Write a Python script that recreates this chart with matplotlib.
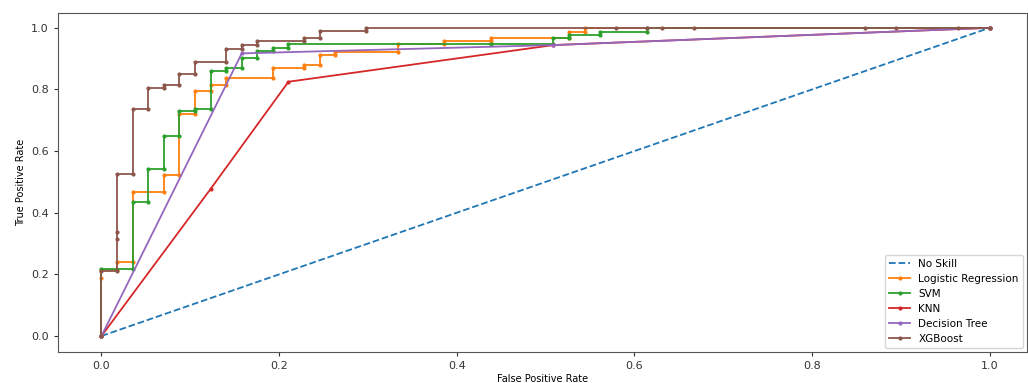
import matplotlib
matplotlib.use("Agg")
import matplotlib.pyplot as plt

# ROC points (fpr, tpr)
ns_fpr = [0.0, 1.0]
ns_tpr = [0.0, 1.0]

lr_fpr = [0.0, 0.0, 0.0, 0.0176, 0.0176, 0.0351, 0.0351, 0.0702, 0.0702, 0.0877, 0.0877, 0.1053,
          0.1053, 0.1228, 0.1228, 0.1404, 0.1404, 0.1930, 0.1930, 0.2281, 0.2281, 0.2456, 0.2456,
          0.2632, 0.2632, 0.3333, 0.3333, 0.3860, 0.3860, 0.4386, 0.4386, 0.5263, 0.5263, 0.5439,
          0.5439, 1.0]
lr_tpr = [0.0, 0.188, 0.215, 0.215, 0.240, 0.240, 0.468, 0.468, 0.524, 0.524, 0.719, 0.719,
          0.795, 0.795, 0.814, 0.814, 0.837, 0.837, 0.871, 0.871, 0.879, 0.879, 0.911, 0.911,
          0.921, 0.921, 0.946, 0.946, 0.957, 0.957, 0.968, 0.968, 0.988, 0.988, 1.0, 1.0]

svm_fpr = [0.0, 0.0, 0.0351, 0.0351, 0.0526, 0.0526, 0.0702, 0.0702, 0.0877, 0.0877, 0.1053, 0.1053,
           0.1228, 0.1228, 0.1404, 0.1404, 0.1579, 0.1579, 0.1754, 0.1754, 0.1930, 0.1930, 0.2105,
           0.2105, 0.4386, 0.5088, 0.5088, 0.5263, 0.5263, 0.5614, 0.5614, 0.6140, 0.6140, 1.0]
svm_tpr = [0.0, 0.216, 0.216, 0.436, 0.436, 0.542, 0.542, 0.650, 0.650, 0.730, 0.730, 0.738,
           0.738, 0.860, 0.860, 0.868, 0.868, 0.902, 0.902, 0.924, 0.924, 0.936, 0.936,
           0.946, 0.946, 0.946, 0.966, 0.966, 0.977, 0.977, 0.988, 0.988, 1.0, 1.0]

knn_fpr = [0.0, 0.1228, 0.2105, 0.5088, 1.0]
knn_tpr = [0.0, 0.477, 0.825, 0.944, 1.0]

dt_fpr = [0.0, 0.1579, 0.5088, 1.0]
dt_tpr = [0.0, 0.917, 0.944, 1.0]

xgb_fpr = [0.0, 0.0, 0.0176, 0.0176, 0.0176, 0.0176, 0.0351, 0.0351, 0.0526, 0.0526, 0.0702, 0.0702,
           0.0877, 0.0877, 0.1053, 0.1053, 0.1404, 0.1404, 0.1579, 0.1579, 0.1754, 0.1754, 0.2281,
           0.2281, 0.2456, 0.2456, 0.2982, 0.2982, 0.5789, 0.6140, 0.6316, 0.6667, 0.8596, 0.8947,
           0.9649, 1.0]
xgb_tpr = [0.0, 0.210, 0.210, 0.314, 0.338, 0.525, 0.525, 0.738, 0.738, 0.805, 0.805, 0.813,
           0.813, 0.850, 0.850, 0.889, 0.889, 0.931, 0.931, 0.945, 0.945, 0.957, 0.957,
           0.968, 0.968, 0.989, 0.989, 1.0, 1.0, 1.0, 1.0, 1.0, 1.0, 1.0, 1.0, 1.0]

fig = plt.figure(figsize=(10.28, 3.83), dpi=100)
ax = fig.add_axes([0.0564, 0.0809, 0.9426, 0.8843])

lw = 1.3
ms = 4
ax.plot(ns_fpr, ns_tpr, linestyle='--', color='C0', lw=lw, label='No Skill')
ax.plot(lr_fpr, lr_tpr, marker='.', color='C1', lw=lw, ms=ms, label='Logistic Regression')
ax.plot(svm_fpr, svm_tpr, marker='.', color='C2', lw=lw, ms=ms, label='SVM')
ax.plot(knn_fpr, knn_tpr, marker='.', color='C3', lw=lw, ms=ms, label='KNN')
ax.plot(dt_fpr, dt_tpr, marker='.', color='C4', lw=lw, ms=ms, label='Decision Tree')
ax.plot(xgb_fpr, xgb_tpr, marker='.', color='C5', lw=lw, ms=ms, label='XGBoost')

ax.set_xlim(-0.049, 1.042)
ax.set_ylim(-0.052, 1.047)
ax.set_xticks([0.0, 0.2, 0.4, 0.6, 0.8, 1.0])
ax.set_yticks([0.0, 0.2, 0.4, 0.6, 0.8, 1.0])
ax.tick_params(labelsize=8, length=3, colors='#333333')
for s in ax.spines.values():
    s.set_color('#555555')

ax.set_xlabel('False Positive Rate', fontsize=7, labelpad=2)
ax.set_ylabel('True Positive Rate', fontsize=7, labelpad=4)

ax.legend(loc='lower right', fontsize=7.5, labelspacing=0.48, borderaxespad=0.4)

fig.savefig('out.png', dpi=100)
